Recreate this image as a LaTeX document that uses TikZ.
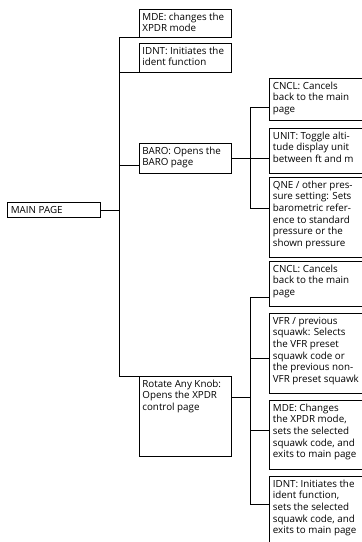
\documentclass[tikz,border=0pt]{standalone}
\usepackage{fontspec}
\setmainfont{Open Sans}
\begin{document}
\begin{tikzpicture}[x=1pt,y=-1pt,
  box/.style={draw=black, line width=0.8pt, anchor=north west, inner xsep=3.5pt, inner ysep=2.5pt,
    font=\fontsize{9.8}{11.67}\selectfont},
  link/.style={draw=black, line width=0.8pt},
  thick link/.style={draw=black, line width=1.6pt}]
\useasboundingbox (0,0) rectangle (362,542);
\clip (0,0) rectangle (362,542);
\newcommand{\bt}[3]{\parbox[t][#1pt][t]{#2pt}{\begin{tabular}[t]{@{}l@{}}#3\end{tabular}}}
% level 0
\node[box] (main) at (7,202) {\bt{10}{86}{MAIN PAGE}};
% level 1
\node[box] (mde)  at (138.5,9)   {\bt{23}{85.5}{MDE: changes the\\XPDR mode}};
\node[box] (idnt) at (138.5,43)  {\bt{24}{85.5}{IDNT: Initiates the\\ident function}};
\node[box] (baro) at (138.5,143) {\bt{25}{85.5}{BARO: Opens the\\BARO page}};
\node[box] (rot)  at (138.5,376) {\bt{75}{85.5}{Rotate Any Knob:\\Opens the XPDR\\control page}};
% level 2 (baro)
\node[box] (cncla) at (269,78)  {\bt{37}{85.5}{CNCL: Cancels\\back to the main\\page}};
\node[box] (unit)  at (269,128) {\bt{40}{85.5}{UNIT: Toggle alti-\\tude display unit\\between ft and m}};
\node[box] (qne)   at (269,177) {\bt{75}{85.5}{QNE / other pres-\\sure setting: Sets\\barometric refer-\\ence to standard\\pressure or the\\shown pressure}};
% level 2 (rotate)
\node[box] (cnclb) at (269,261) {\bt{40}{85.5}{CNCL: Cancels\\back to the main\\page}};
\node[box] (vfr)   at (269,313) {\bt{75}{85.5}{VFR / previous\\squawk: Selects\\the VFR preset\\squawk code or\\the previous non-\\VFR preset squawk}};
\node[box] (mdeb)  at (269,400) {\bt{64}{85.5}{MDE: Changes\\the XPDR mode,\\sets the selected\\squawk code, and\\exits to main page}};
\node[box] (idntb) at (269,476) {\bt{69}{85.5}{IDNT: Initiates the\\ident function,\\sets the selected\\squawk code, and\\exits to main page}};
% trunks
\coordinate (tA) at (119,0);
\coordinate (tB) at (250,0);
% level 0 -> 1
\draw[link] (main.east) -- (main.east -| tA);
\draw[link] (mde.south west) -| (tA |- rot.north west) -- (rot.north west);
\draw[link] (idnt.south west) -- (idnt.south west -| tA);
\draw[link] ([yshift=-7pt]baro.west) -- ([yshift=-7pt]baro.west -| tA);
% baro -> level 2
\draw[thick link] (baro.east) -- (baro.east -| tB);
\draw[link] ([yshift=-29pt]cncla.north west) -| ([yshift=-31pt]qne.north west -| tB) -- ([yshift=-31pt]qne.north west);
\draw[link] (baro.east -| unit.west) -- (baro.east -| tB);
% rotate -> level 2
\draw[link] ([yshift=-21pt]rot.north east) -- ([yshift=-21pt]rot.north east -| tB);
\draw[link] ([yshift=-36pt]cnclb.north west) -| ([yshift=-28pt]idntb.north west -| tB) -- ([yshift=-28pt]idntb.north west);
\draw[link] ([yshift=-45pt]vfr.north west) -- ([yshift=-45pt]vfr.north west -| tB);
\draw[link] ([yshift=-30pt]mdeb.north west) -- ([yshift=-30pt]mdeb.north west -| tB);
\end{tikzpicture}
\end{document}
